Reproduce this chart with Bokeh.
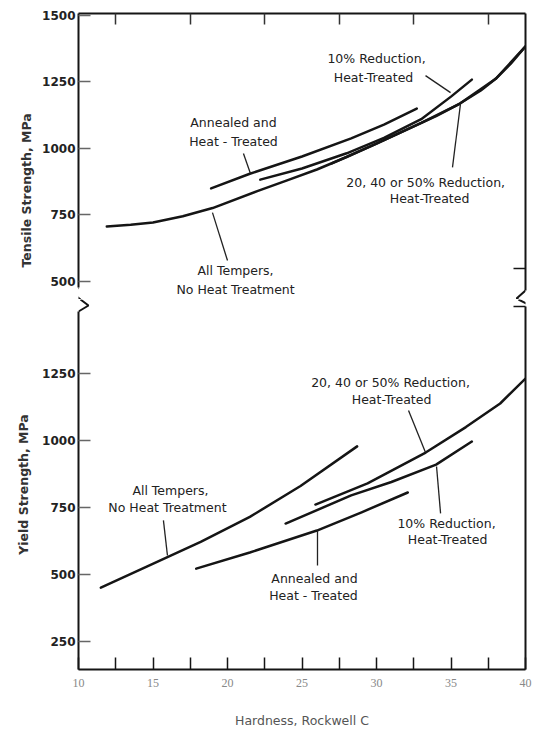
import math
from bokeh.plotting import figure
from bokeh.models import LinearAxis, FixedTicker, Range1d, Label, PolyAnnotation, Title
from bokeh.layouts import column
from bokeh.embed import file_html
from bokeh.resources import INLINE

# ---------------- data (Hardness, Rockwell C  vs  strength, MPa) ----------------
# Tensile strength panel
ts_all_hrc = [11.9, 13.5, 15.0, 17.0, 19.0, 22.0, 24.0, 26.0, 28.0, 30.0, 32.0, 34.0, 35.6, 37.0, 38.0, 39.0, 40.0]
ts_all_mpa = [707, 713, 722, 745, 776, 840, 880, 921, 968, 1018, 1070, 1122, 1169, 1218, 1262, 1318, 1384]

ts_ann_hrc = [18.9, 21.5, 25.0, 28.3, 30.5, 32.7]
ts_ann_mpa = [850, 905, 970, 1038, 1090, 1150]

ts_r10_hrc = [22.2, 25.0, 28.0, 30.5, 33.0, 35.0, 36.4]
ts_r10_mpa = [883, 925, 982, 1040, 1110, 1195, 1259]

ts_r2050_hrc = [27.0, 30.0, 33.0, 35.6, 38.0, 40.0]
ts_r2050_mpa = [944, 1018, 1096, 1169, 1262, 1384]

# Yield strength panel
ys_all_hrc = [11.5, 14.8, 18.2, 21.5, 24.9, 28.7]
ys_all_mpa = [451, 535, 622, 715, 830, 978]

ys_ann_hrc = [17.9, 21.5, 26.0, 29.0, 32.1]
ys_ann_mpa = [522, 582, 664, 732, 806]

ys_r10_hrc = [23.9, 28.3, 31.0, 34.0, 36.4]
ys_r10_mpa = [690, 795, 845, 910, 996]

ys_r2050_hrc = [25.9, 29.4, 33.3, 36.0, 38.3, 40.0]
ys_r2050_mpa = [761, 840, 955, 1050, 1138, 1231]

# ticks
x_major = [10, 15, 20, 25, 30, 35, 40]
x_minor = [12.5, 17.5, 22.5, 27.5, 32.5, 37.5]
ts_ticks = [500, 750, 1000, 1250, 1500]
ys_ticks = [250, 500, 750, 1000, 1250]

INK = "#151515"
W = 532
FONT = "DejaVu Sans"

xr = Range1d(10, 40)


def base_fig(height, yr, top, bottom):
    return figure(width=W, height=height, x_range=xr, y_range=yr,
                  x_axis_type=None, y_axis_type=None,
                  output_backend="svg", toolbar_location=None,
                  min_border_left=78, min_border_right=7,
                  min_border_top=top, min_border_bottom=bottom,
                  outline_line_color=None, background_fill_color="white",
                  border_fill_color="white")


def style_axis(ax, tick_len=12):
    ax.axis_line_color = INK
    ax.axis_line_width = 2
    ax.major_tick_in = tick_len
    ax.major_tick_out = 0
    ax.minor_tick_in = tick_len
    ax.minor_tick_out = 0
    ax.major_tick_line_width = 1.5
    ax.minor_tick_line_width = 1.5
    ax.minor_tick_line_color = INK


def style_y_labels(ax):
    ax.major_tick_line_color = "#666"
    ax.major_label_text_font = FONT
    ax.major_label_text_font_style = "bold"
    ax.major_label_text_font_size = "12px"
    ax.major_label_text_color = "#222"
    ax.major_label_standoff = 3
    ax.axis_label_text_font = FONT
    ax.axis_label_text_font_style = "bold"
    ax.axis_label_text_font_size = "12.5px"
    ax.axis_label_text_color = "#333"


def add_text(p, x, y, txt):
    p.add_layout(Label(x=x, y=y, text=txt, text_align="center", text_baseline="middle",
                       text_font=FONT, text_font_size="12.5px", text_color="#222"))


def add_break(p, xs, ys):
    p.add_layout(PolyAnnotation(xs=xs, ys=ys, fill_alpha=0, line_color=INK,
                                line_alpha=1.0, line_width=2))


# ---------------- top panel: tensile strength ----------------
p1 = base_fig(299, Range1d(432.3, 1507.5), 13, 0)

ax = LinearAxis(ticker=FixedTicker(ticks=ts_ticks), bounds=(477.4, 1507.5))
style_axis(ax)
style_y_labels(ax)
p1.add_layout(ax, "left")

p1.add_layout(Title(text="Tensile Strength, MPa", align="left", offset=32, standoff=11,
                    text_font=FONT, text_font_size="12.5px", text_font_style="bold",
                    text_color="#333"), "left")

ax = LinearAxis(ticker=FixedTicker(ticks=[], minor_ticks=x_minor))
style_axis(ax, 11)
ax.minor_tick_line_color = "#333"
p1.add_layout(ax, "above")

ax = LinearAxis(ticker=FixedTicker(ticks=[], minor_ticks=[550]), bounds=(466.2, 1507.5))
style_axis(ax, 12)
p1.add_layout(ax, "right")

for xs, ys in [(ts_all_hrc, ts_all_mpa), (ts_ann_hrc, ts_ann_mpa),
               (ts_r10_hrc, ts_r10_mpa), (ts_r2050_hrc, ts_r2050_mpa)]:
    p1.line(xs, ys, line_color=INK, line_width=2.5, line_join="round", line_cap="round")

# leader lines
p1.segment(x0=[21.07, 20.0, 33.29, 35.1], y0=[981, 579, 1274, 929],
           x1=[21.54, 18.99, 34.97, 35.64], y1=[906, 759, 1210, 1169],
           line_color="#222", line_width=1.3)

add_text(p1, 20.4, 1098, "Annealed and")
add_text(p1, 20.4, 1026, "Heat - Treated")
add_text(p1, 20.54, 541, "All Tempers,")
add_text(p1, 20.54, 470, "No Heat Treatment")
add_text(p1, 30.0, 1338, "10% Reduction,")
add_text(p1, 29.8, 1267, "Heat-Treated")
add_text(p1, 33.3, 872, "20, 40 or 50% Reduction,")
add_text(p1, 33.56, 812, "Heat-Treated")

# axis breaks (upper halves)
add_break(p1, [10.0, 9.597, 10.134, 9.597], [477.4, 454.9, 432.3, 454.9])
add_break(p1, [40.0, 39.40, 39.53, 39.40], [466.2, 436.1, 432.3, 436.1])

# ---------------- bottom panel: yield strength ----------------
p2 = base_fig(433, Range1d(145.5, 1526.1), 0, 63)

ax = LinearAxis(ticker=FixedTicker(ticks=ys_ticks), bounds=(145.5, 1481.3),
                axis_label="Yield Strength, MPa")
style_axis(ax)
style_y_labels(ax)
ax.axis_label_standoff = 8
p2.add_layout(ax, "left")

ax = LinearAxis(ticker=FixedTicker(ticks=x_major, minor_ticks=x_minor),
                axis_label="Hardness, Rockwell C")
style_axis(ax, 12)
ax.major_tick_line_color = INK
ax.major_label_text_font = "Liberation Sans Narrow"
ax.major_label_text_font_size = "12px"
ax.major_label_text_color = "#888"
ax.major_label_standoff = 9
ax.axis_label_text_font = FONT
ax.axis_label_text_font_style = "normal"
ax.axis_label_text_font_size = "12.5px"
ax.axis_label_text_color = "#555"
ax.axis_label_standoff = 23
p2.add_layout(ax, "below")

ax = LinearAxis(ticker=FixedTicker(ticks=[], minor_ticks=[1500]), bounds=(145.5, 1500))
style_axis(ax, 12)
p2.add_layout(ax, "right")

for xs, ys in [(ys_all_hrc, ys_all_mpa), (ys_ann_hrc, ys_ann_mpa),
               (ys_r10_hrc, ys_r10_mpa), (ys_r2050_hrc, ys_r2050_mpa)]:
    p2.line(xs, ys, line_color=INK, line_width=2.5, line_join="round", line_cap="round")

p2.segment(x0=[32.15, 34.30, 26.04, 15.70], y0=[1112, 728, 534, 702],
           x1=[33.29, 34.03, 26.04, 15.97], y1=[955, 903, 664, 571],
           line_color="#222", line_width=1.3)

add_text(p2, 30.94, 1216, "20, 40 or 50% Reduction,")
add_text(p2, 31.01, 1153, "Heat-Treated")
add_text(p2, 34.70, 690, "10% Reduction,")
add_text(p2, 34.77, 631, "Heat-Treated")
add_text(p2, 25.84, 485, "Annealed and")
add_text(p2, 25.77, 422, "Heat - Treated")
add_text(p2, 16.17, 813, "All Tempers,")
add_text(p2, 15.97, 750, "No Heat Treatment")

# axis breaks (lower halves)
add_break(p2, [10.134, 10.671, 10.0, 10.671], [1526.1, 1503.7, 1481.3, 1503.7])
add_break(p2, [39.53, 40.54, 40.0, 40.54], [1526.1, 1496.3, 1481.3, 1496.3])

layout = column(p1, p2)
open("out.html", "w").write(file_html(layout, INLINE))
